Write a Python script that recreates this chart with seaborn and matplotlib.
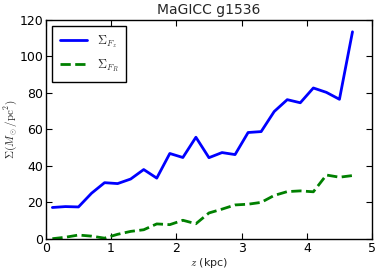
import matplotlib
matplotlib.use("Agg")
import matplotlib.pyplot as plt
import seaborn as sns
import pandas as pd

z = [0.1, 0.3, 0.5, 0.7, 0.9, 1.1, 1.3, 1.5, 1.7, 1.9, 2.1, 2.3,
     2.5, 2.7, 2.9, 3.1, 3.3, 3.5, 3.7, 3.9, 4.1, 4.3, 4.5, 4.7]
sigma_fz = [17.2, 17.7, 17.5, 25.0, 30.8, 30.3, 32.8, 38.0, 33.3, 46.8, 44.6, 55.7,
            44.5, 47.3, 46.2, 58.3, 58.8, 69.8, 76.3, 74.6, 82.7, 80.3, 76.5, 113.5]
sigma_fr = [0.1, 0.9, 2.1, 1.5, 0.4, 2.5, 4.1, 5.0, 8.2, 7.8, 10.2, 8.3,
            14.2, 16.3, 18.6, 19.0, 20.0, 23.8, 25.9, 26.3, 25.8, 35.0, 33.8, 34.7]
labels = [r"$\Sigma_{F_z}$", r"$\Sigma_{F_R}$"]

sns.set_style("ticks", {"xtick.direction": "in", "ytick.direction": "in"})
plt.rcParams["font.family"] = ["DejaVu Sans"]
plt.rcParams["font.size"] = 9
plt.rcParams["mathtext.fontset"] = "cm"

df = pd.DataFrame({"z": z * 2, "sigma": sigma_fz + sigma_fr,
                   "series": [labels[0]] * len(z) + [labels[1]] * len(z)})

fig = plt.figure(figsize=(3.82, 2.73), dpi=100)
ax = fig.add_axes([0.12, 0.125, 0.854, 0.802])
sns.lineplot(data=df, x="z", y="sigma", hue="series", style="series",
             palette=["#0000ff", "#008000"], linewidth=2, ax=ax)
ax.lines[0].set_linestyle("-")
ax.lines[1].set_linestyle("--")
ax.set_xlim(0, 5)
ax.set_ylim(0, 120)
ax.set_xticks([0, 1, 2, 3, 4, 5])
ax.set_yticks([0, 20, 40, 60, 80, 100, 120])
ax.tick_params(top=True, right=True, length=4, width=0.8, labelsize=9,
               colors="black", pad=2)
for s in ax.spines.values():
    s.set_color("black")
    s.set_linewidth(1)
ax.set_title("MaGICC g1536", fontsize=10, pad=4)
ax.set_xlabel(r"$z$ (kpc)", fontsize=8, labelpad=1)
ax.set_ylabel(r"$\Sigma(M_\odot/\mathrm{pc}^2)$", fontsize=8, labelpad=0)
h, l = ax.get_legend_handles_labels()
for hh, ls in zip(h, ["-", "--"]):
    hh.set_linestyle(ls)
leg = ax.legend(h, l, loc="upper left", fontsize=9, frameon=True, fancybox=False,
                edgecolor="black", framealpha=1, handlelength=2.2, borderpad=0.6,
                labelspacing=0.6)
leg.get_frame().set_linewidth(1)
fig.savefig("out.png", dpi=100)
